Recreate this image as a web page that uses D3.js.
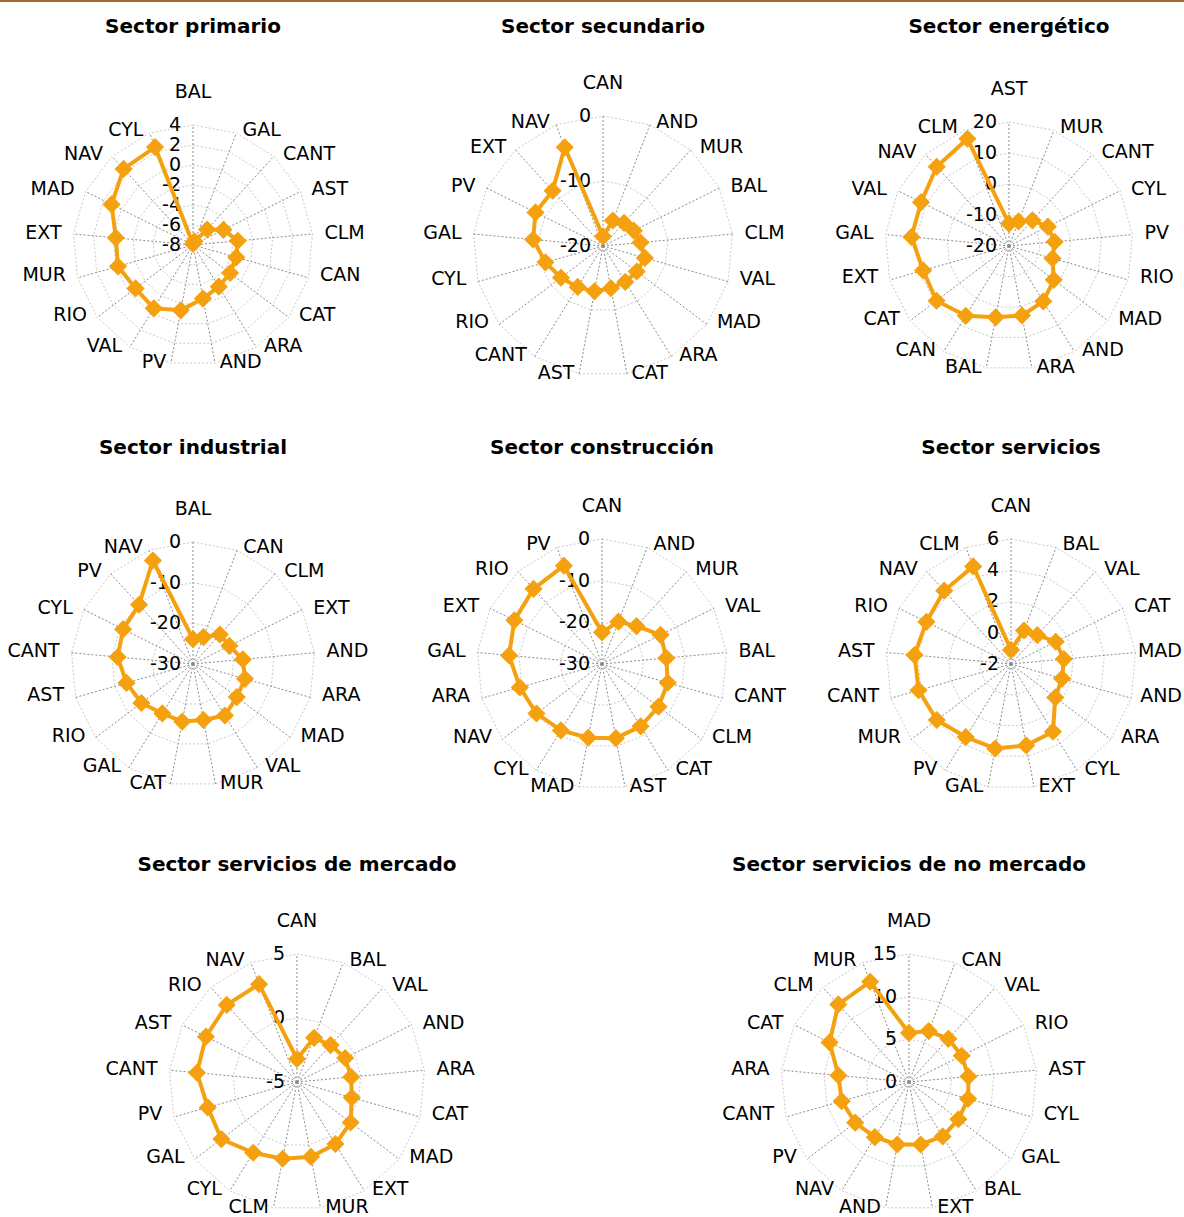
<!DOCTYPE html>
<html lang="es">
<head>
<meta charset="utf-8">
<title>Crecimiento sectorial por comunidad autónoma</title>
<script src="https://cdn.jsdelivr.net/npm/d3@7"></script>
<style>
  html, body { margin: 0; padding: 0; background: #ffffff; }
  svg { display: block; }
</style>
</head>
<body>
<script>
// ---- Sector primario ----
const primarioCats  = ["BAL","GAL","CANT","AST","CLM","CAN","CAT","ARA","AND","PV","VAL","RIO","MUR","EXT","MAD","NAV","CYL"];
const primarioVals  = [-7.9,-7.6,-5.9,-4.6,-3.5,-3.5,-3.35,-3.1,-2.55,-1.35,-0.55,-0.8,-0.2,-0.25,1.1,2.3,2.5];
const primarioTicks = [-8,-6,-4,-2,0,2,4];

// ---- Sector secundario ----
const secundarioCats  = ["CAN","AND","MUR","BAL","CLM","VAL","MAD","ARA","CAT","AST","CANT","RIO","CYL","GAL","PV","EXT","NAV"];
const secundarioVals  = [-18.5,-15.8,-15.2,-14.7,-14.2,-13.3,-13.5,-13.5,-13.4,-12.9,-12.6,-11.9,-10.8,-9.2,-8.4,-8.5,-3.7];
const secundarioTicks = [-20,-10,0];

// ---- Sector energético ----
const energeticoCats  = ["AST","MUR","CANT","CYL","PV","RIO","MAD","AND","ARA","BAL","CAN","CAT","EXT","GAL","VAL","NAV","CLM"];
const energeticoVals  = [-12.8,-11.5,-8.8,-6.0,-5.2,-5.4,-1.9,1.0,2.8,3.4,6.5,9.3,8.8,11.6,11.7,14.6,17.1];
const energeticoTicks = [-20,-10,0,10,20];

// ---- Sector industrial ----
const industrialCats  = ["BAL","CAN","CLM","EXT","AND","ARA","MAD","VAL","MUR","CAT","GAL","RIO","AST","CANT","CYL","PV","NAV"];
const industrialVals  = [-23.9,-22.9,-20.2,-20.0,-17.7,-16.7,-16.5,-15.1,-16.0,-15.6,-15.7,-14.1,-13.0,-11.4,-10.8,-10.3,-2.7];
const industrialTicks = [-30,-20,-10,0];

// ---- Sector construcción ----
const construccionCats  = ["CAN","AND","MUR","VAL","BAL","CANT","CLM","CAT","AST","MAD","CYL","NAV","ARA","GAL","EXT","RIO","PV"];
const construccionVals  = [-22.4,-19.1,-17.7,-14.3,-14.5,-13.6,-13.0,-12.4,-11.9,-12.0,-11.25,-10.3,-9.5,-7.6,-6.5,-5.6,-4.7];
const construccionTicks = [-30,-20,-10,0];

// ---- Sector servicios ----
const serviciosCats  = ["CAN","BAL","VAL","CAT","MAD","AND","ARA","CYL","EXT","GAL","PV","MUR","CANT","AST","RIO","NAV","CLM"];
const serviciosVals  = [-1.1,0.3,0.5,1.2,1.4,1.4,1.55,3.1,3.3,3.5,3.5,3.95,4.15,4.2,4.05,4.35,4.7];
const serviciosTicks = [-2,0,2,4,6];

// ---- Sector servicios de mercado ----
const mercadoCats  = ["CAN","BAL","VAL","AND","ARA","CAT","MAD","EXT","MUR","CLM","CYL","GAL","PV","CANT","AST","RIO","NAV"];
const mercadoVals  = [-3.2,-1.3,-1.1,-0.8,-0.75,-0.55,0.25,0.7,0.95,1.1,1.5,2.4,2.25,2.85,2.95,3.15,3.2];
const mercadoTicks = [-5,0,5];

// ---- Sector servicios de no mercado ----
const noMercadoCats  = ["MAD","CAN","VAL","RIO","AST","CYL","GAL","BAL","EXT","AND","NAV","PV","CANT","ARA","CAT","CLM","MUR"];
const noMercadoVals  = [5.75,6.4,6.85,6.9,7.0,7.2,7.25,7.5,7.45,7.45,7.6,7.9,8.2,8.3,10.4,12.3,12.6];
const noMercadoTicks = [0,5,10,15];

const panels = [
  { title: "Sector primario",                cats: primarioCats,     vals: primarioVals,     ticks: primarioTicks },
  { title: "Sector secundario",              cats: secundarioCats,   vals: secundarioVals,   ticks: secundarioTicks },
  { title: "Sector energético",              cats: energeticoCats,   vals: energeticoVals,   ticks: energeticoTicks },
  { title: "Sector industrial",              cats: industrialCats,   vals: industrialVals,   ticks: industrialTicks },
  { title: "Sector construcción",            cats: construccionCats, vals: construccionVals, ticks: construccionTicks },
  { title: "Sector servicios",               cats: serviciosCats,    vals: serviciosVals,    ticks: serviciosTicks },
  { title: "Sector servicios de mercado",    cats: mercadoCats,      vals: mercadoVals,      ticks: mercadoTicks },
  { title: "Sector servicios de no mercado", cats: noMercadoCats,    vals: noMercadoVals,    ticks: noMercadoTicks }
];

// Panel placement: centre of each radar, outer radius, title baseline
const layout = [
  { cx: 193,  cy: 245,  r: 120, ty: 33 },
  { cx: 603,  cy: 246,  r: 130, ty: 33 },
  { cx: 1009, cy: 246,  r: 124, ty: 33 },
  { cx: 193,  cy: 664,  r: 122, ty: 454 },
  { cx: 602,  cy: 664,  r: 125, ty: 454 },
  { cx: 1011, cy: 664,  r: 125, ty: 454 },
  { cx: 297,  cy: 1082, r: 128, ty: 871 },
  { cx: 909,  cy: 1082, r: 128, ty: 871 }
];

const W = 1184, H = 1217;
const FONT = "'DejaVu Sans', Verdana, sans-serif";
const SERIES = "#f5a10f";

const svg = d3.select("body").append("svg")
  .attr("width", W).attr("height", H)
  .attr("viewBox", `0 0 ${W} ${H}`);

svg.append("rect").attr("width", W).attr("height", H).attr("fill", "#ffffff");
// thin rule across the top of the page
svg.append("rect").attr("x", 0).attr("y", 0).attr("width", W).attr("height", 2).attr("fill", "#a8682a");

function drawRadar(p, lay) {
  const n = p.cats.length;
  const g = svg.append("g").attr("transform", `translate(${lay.cx},${lay.cy})`);

  const r = d3.scaleLinear()
    .domain([p.ticks[0], p.ticks[p.ticks.length - 1]])
    .range([0, lay.r]);
  const angle = d3.scaleLinear().domain([0, n]).range([0, 2 * Math.PI]);
  const idx = d3.range(n);

  // title
  svg.append("text")
    .attr("x", lay.cx).attr("y", lay.ty)
    .attr("text-anchor", "middle")
    .attr("font-family", FONT).attr("font-size", 20).attr("font-weight", "bold")
    .attr("fill", "#000")
    .text(p.title);

  // polygonal gridlines at each major tick
  const ring = d3.lineRadial().curve(d3.curveLinearClosed)
    .angle(i => angle(i));
  g.selectAll("path.ring")
    .data(p.ticks.slice(1))
    .join("path")
    .attr("class", "ring")
    .attr("d", t => ring.radius(r(t))(idx))
    .attr("fill", "none")
    .attr("stroke", "#c9c9c9")
    .attr("stroke-width", 1)
    .attr("stroke-dasharray", "2,2");

  // spokes
  g.selectAll("line.spoke")
    .data(idx)
    .join("line")
    .attr("class", "spoke")
    .attr("x1", 0).attr("y1", 0)
    .attr("x2", i => lay.r * Math.sin(angle(i)))
    .attr("y2", i => -lay.r * Math.cos(angle(i)))
    .attr("stroke", "#8a8a8a")
    .attr("stroke-width", 1)
    .attr("stroke-dasharray", "2,2");

  // value-axis labels along the top spoke
  g.selectAll("text.tick")
    .data(p.ticks)
    .join("text")
    .attr("class", "tick")
    .attr("x", -12)
    .attr("y", t => -r(t) - 1)
    .attr("dy", "0.36em")
    .attr("text-anchor", "end")
    .attr("font-family", FONT).attr("font-size", 19)
    .attr("fill", "#000")
    .text(t => d3.format("d")(t).replace("−", "-"));

  // category labels around the outside, kept inside the page width
  g.selectAll("text.cat")
    .data(idx)
    .join("text")
    .attr("class", "cat")
    .attr("font-family", FONT).attr("font-size", 19)
    .attr("fill", "#000")
    .each(function (i) {
      const a = angle(i);
      const ux = Math.sin(a), uy = -Math.cos(a);
      const t = d3.select(this).text(p.cats[i]).attr("dy", "0.36em");
      if (i === 0) {
        t.attr("x", 0).attr("y", -lay.r - 34).attr("text-anchor", "middle");
        return;
      }
      const s = ux >= 0 ? 1 : -1;
      let x = (lay.r + 12) * ux + s * 3 * (1 - Math.abs(ux));
      const y = (lay.r + 2) * uy - (uy > 0 ? 4 : 2);
      const w = this.getComputedTextLength();
      if (s > 0) x = Math.min(x, W - 2 - lay.cx - w);
      else x = Math.max(x, 2 - lay.cx + w);
      t.attr("x", x).attr("y", y).attr("text-anchor", s > 0 ? "start" : "end");
    });

  // data series
  const series = d3.lineRadial().curve(d3.curveLinearClosed)
    .angle((d, i) => angle(i))
    .radius(d => r(d));
  g.append("path")
    .attr("d", series(p.vals))
    .attr("fill", "none")
    .attr("stroke", SERIES)
    .attr("stroke-width", 4)
    .attr("stroke-linejoin", "round");

  const diamond = d3.symbol().type(d3.symbolSquare).size(140);
  g.selectAll("path.marker")
    .data(p.vals)
    .join("path")
    .attr("class", "marker")
    .attr("d", diamond)
    .attr("transform", (d, i) => {
      const a = angle(i);
      return `translate(${r(d) * Math.sin(a)},${-r(d) * Math.cos(a)}) rotate(45)`;
    })
    .attr("fill", SERIES)
    .attr("stroke", SERIES)
    .attr("stroke-width", 1);
}

panels.forEach((p, k) => drawRadar(p, layout[k]));
</script>
</body>
</html>
